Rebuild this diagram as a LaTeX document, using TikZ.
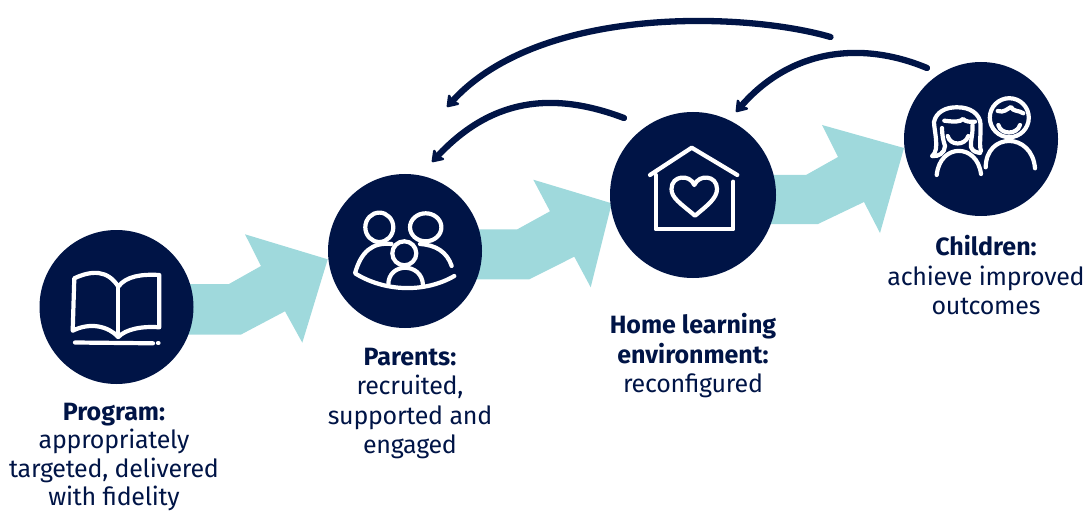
\documentclass[tikz,border=0pt]{standalone}
\usepackage{fontspec}
\setmainfont[LetterSpace=-1.0,BoldFeatures={LetterSpace=0}]{Fira Sans}
\usetikzlibrary{arrows.meta}
\definecolor{navy}{HTML}{001446}
\definecolor{teal}{HTML}{9FD9DC}
\tikzset{
  hub/.style={circle,fill=navy,inner sep=0pt,minimum size=154pt},
  bighub/.style={hub,minimum size=166pt},
  flow/.style={fill=teal,draw=none},
  feedback/.style={draw=navy,line width=6.3pt,line cap=round,
    -{Stealth[length=13pt,width=18pt,inset=3.5pt,round]}},
  icon/.style={draw=white,line width=4.2pt,line cap=round,line join=round},
  caption/.style={align=center,text=navy,font=\fontsize{25}{29.5}\selectfont,inner sep=0pt,anchor=north}
}
\begin{document}
\begin{tikzpicture}[x=1pt,y=-1pt]
\useasboundingbox (0,0) rectangle (1086,513);
% block arrows
\fill[flow] (185,284)--(229,284)--(261,266)--(245,234.3)--(327.7,259.3)--(302.3,342.7)--(285,311.3)--(240.7,334.7)--(185,334.7)--cycle;
\fill[flow] (470,229.3)--(517.3,229.3)--(550,211.3)--(533.3,179.7)--(611.7,203.3)--(590.7,287.3)--(574.3,256.7)--(529.3,279.3)--(470,279.3)--cycle;
\fill[flow] (765,175)--(806,175)--(838,157)--(822,125)--(904,148)--(880,233)--(864,202)--(818,224)--(765,224)--cycle;
% hubs
\node[hub] (program) at (116.5,307) {};
\node[hub] (parents) at (405,251) {};
\node[bighub] (home) at (693,195) {};
\node[hub] (children) at (981,139) {};
% feedback arrows
\coordinate (a1s) at (830.5,37);
\coordinate (a1e) at (447,107);
\coordinate (a2s) at (624,118);
\coordinate (a2e) at (432,162);
\coordinate (a3s) at (927,68);
\coordinate (a3e) at (736,112);
\draw[feedback] (a1s) .. controls (745,12) and (540,5) .. (a1e);
\draw[feedback] (a2s) .. controls (550,90) and (490,100) .. (a2e);
\draw[feedback] (a3s) .. controls (860,40) and (790,50) .. (a3e);
% book icon
\draw[icon] (118.3,337) .. controls (108,326) and (90,322) .. (72.7,330.7)
  -- (74.3,278.3) .. controls (92,270) and (108,270) .. (118.3,286.7)
  .. controls (126,276) and (142,274) .. (159.3,275) -- (159.3,327.3)
  .. controls (142,326) and (126,329) .. (118.3,337) -- cycle;
\draw[icon] (118.3,286.7) -- (118.3,337);
\draw[icon] (75,342.5) -- (153,343.3);
\draw[icon] (158,343) -- (158.5,343);
% parents icon
\draw[icon] (379.3,227.3) ellipse [x radius=14,y radius=14.7];
\draw[icon] (425.7,227.3) ellipse [x radius=15.7,y radius=14];
\draw[icon] (404.3,253.3) circle [radius=12];
\draw[icon] (391.5,244) .. controls (372,242) and (361,252) .. (355,273.3)
  .. controls (385,292) and (425,293) .. (454.3,276);
\draw[icon] (420,244) .. controls (436,245) and (447,252) .. (451.7,266);
\draw[icon] (388.3,285) .. controls (388,262) and (422,262) .. (423,285);
% home icon
\draw[icon] (650,175) -- (691.7,147.7) -- (737.3,175);
\draw[icon] (655.7,175) -- (655.7,229.3) -- (733.3,229.3) -- (733.3,181.7);
\draw[icon] (695,215.7) .. controls (680,203) and (671.5,198) .. (671.5,189)
  .. controls (671.5,175) and (690,174) .. (694.3,185)
  .. controls (699,174) and (717,175) .. (717,189)
  .. controls (717,198) and (708,205) .. (695,215.7) -- cycle;
% children icon
\draw[icon] (1009.3,117.7) circle [radius=19.5];
\draw[icon] (997.7,111) .. controls (1004,113) and (1007,109) .. (1011,107)
  .. controls (1013,112) and (1019,110) .. (1023.3,113.3);
\draw[icon] (998.3,125) .. controls (1001,135) and (1017,135) .. (1020,125);
\draw[icon] (985.7,167.3) .. controls (986,132) and (1032,132) .. (1035,168.3);
\draw[icon] (932.3,156) .. controls (940,150) and (934,130) .. (934,122)
  .. controls (936,112) and (946,107) .. (957,107.3)
  .. controls (970,107) and (980,114) .. (980.5,124)
  .. controls (981,135) and (979,145) .. (981,151);
\draw[icon] (932.3,156) .. controls (938,157) and (945,153) .. (945,146)
  .. controls (943,140) and (942,134) .. (942,128);
\draw[icon] (944.3,120.7) .. controls (955,122) and (960,122) .. (963,119)
  .. controls (966,122) and (970,122) .. (975,121.7);
\draw[icon] (972.5,125) .. controls (973,135) and (970,142) .. (971,147)
  .. controls (973,152) and (976,152) .. (980,153);
\draw[icon] (947.7,136) .. controls (950,146) and (965,146) .. (968.3,136);
\draw[icon] (936.7,175) .. controls (940,143) and (977,143) .. (981,174);
% captions
\node[caption,font=\fontsize{25}{28.3}\selectfont] (ct1) at (114,403) {\textbf{Program:}\\appropriately\\targeted, delivered\\with fidelity};
\node[caption] (ct2) at (410,347.5) {\textbf{Parents:}\\recruited,\\supported and\\engaged};
\node[caption] (ct3) at (693,313.5) {\textbf{Home learning}\\\textbf{environment:}\\reconfigured};
\node[caption] (ct4) at (986,235.5) {\textbf{Children:}\\achieve improved\\outcomes};
\end{tikzpicture}
\end{document}
